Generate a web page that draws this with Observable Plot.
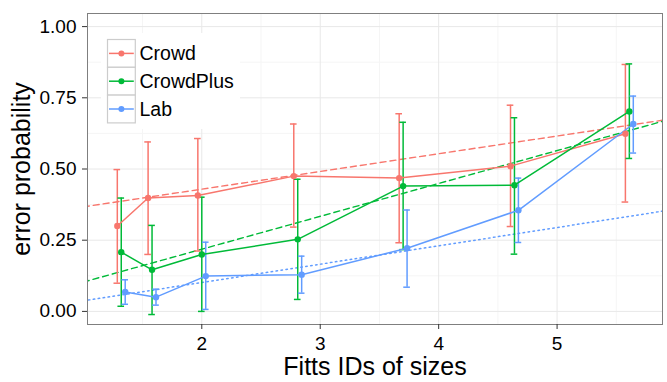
<!DOCTYPE html>
<html><head><meta charset="utf-8">
<script src="https://cdn.jsdelivr.net/npm/d3@7"></script>
<script src="https://cdn.jsdelivr.net/npm/@observablehq/plot@0.6"></script>
<style>
html,body{margin:0;padding:0;background:#fff;}
#chart{position:relative;width:667px;height:382px;font-family:"Liberation Sans",Arial,sans-serif;}
#chart svg{display:block;}
#legend{position:absolute;left:0;top:0;pointer-events:none;}
</style></head><body><div id="chart"></div>
<script>
// ---- data ----
const categories = ["Crowd", "CrowdPlus", "Lab"];
const colors = ["#F8766D", "#00BA38", "#619CFF"];
const fittsIDs = [1.32, 1.58, 2.0, 2.81, 3.70, 4.64, 5.61];

const crowd      = [0.300, 0.398, 0.407, 0.475, 0.468, 0.510, 0.624];
const crowdLo    = [0.099, 0.200, 0.212, 0.296, 0.241, 0.298, 0.384];
const crowdHi    = [0.498, 0.595, 0.607, 0.658, 0.694, 0.724, 0.867];

const crowdPlus   = [0.208, 0.146, 0.200, 0.253, 0.440, 0.443, 0.702];
const crowdPlusLo = [0.018, -0.011, 0.000, 0.042, 0.217, 0.201, 0.537];
const crowdPlusHi = [0.398, 0.302, 0.401, 0.464, 0.664, 0.680, 0.869];

const lab   = [0.068, 0.050, 0.124, 0.129, 0.222, 0.355, 0.658];
const labLo = [0.025, 0.022, 0.007, 0.064, 0.085, 0.242, 0.556];
const labHi = [0.111, 0.078, 0.243, 0.194, 0.356, 0.468, 0.756];

// linear trend lines (values at the ends of trendX)
const trendX = [1, 6];
const crowdTrend     = [0.367, 0.678];
const crowdPlusTrend = [0.103, 0.680];
const labTrend       = [0.037, 0.359];

const xTicks = [2, 3, 4, 5];
const xTickLabels = ["2", "3", "4", "5"];
const xMinor = [1.5, 2.5, 3.5, 4.5, 5.5];
const yTicks = [0, 0.25, 0.5, 0.75, 1];
const yTickLabels = ["0.00", "0.25", "0.50", "0.75", "1.00"];
const yMinor = [0.125, 0.375, 0.625, 0.875];

const xTitle = "Fitts IDs of sizes";
const yTitle = "error probability";

// ---- build tables ----
const dodgeWidth = 0.1;
const capHalf = 0.028;
const means = [crowd, crowdPlus, lab];
const los = [crowdLo, crowdPlusLo, labLo];
const his = [crowdHi, crowdPlusHi, labHi];
const trends = [crowdTrend, crowdPlusTrend, labTrend];

const rows = [];
categories.forEach((c, i) => fittsIDs.forEach((id, j) => rows.push({
  series: c, x: id + (i - 1) * dodgeWidth / 3, y: means[i][j], lo: los[i][j], hi: his[i][j]
})));
const trendRows = [];
categories.forEach((c, i) => trendX.forEach((tx, j) => trendRows.push({series: c, x: tx, y: trends[i][j]})));

const font = "Liberation Sans, Arial, sans-serif";

const plot = Plot.plot({
  width: 667, height: 382,
  marginLeft: 87, marginRight: 5, marginTop: 13, marginBottom: 58,
  style: {fontFamily: font, background: "#fff", color: "#000", overflow: "visible"},
  x: {domain: [1.035, 5.89], label: null},
  y: {domain: [-0.046, 1.046], label: null},
  color: {domain: categories, range: colors},
  marks: [
    Plot.gridX(xMinor, {stroke: "#F5F5F5", strokeOpacity: 1, strokeWidth: 1}),
    Plot.gridY(yMinor, {stroke: "#F5F5F5", strokeOpacity: 1, strokeWidth: 1}),
    Plot.gridX(xTicks, {stroke: "#E8E8E8", strokeOpacity: 1, strokeWidth: 1}),
    Plot.gridY(yTicks, {stroke: "#E8E8E8", strokeOpacity: 1, strokeWidth: 1}),
    Plot.line(trendRows.filter(d => d.series !== "Lab"), {x: "x", y: "y", z: "series", stroke: "series", strokeWidth: 1.4, strokeDasharray: "6,4", clip: true}),
    Plot.line(trendRows.filter(d => d.series === "Lab"), {x: "x", y: "y", z: "series", stroke: "series", strokeWidth: 1.5, strokeDasharray: "1.5,3.5", clip: true}),
    Plot.ruleX(rows, {x: "x", y1: "lo", y2: "hi", stroke: "series", strokeWidth: 1.5}),
    Plot.ruleY(rows, {y: "lo", x1: d => d.x - capHalf, x2: d => d.x + capHalf, stroke: "series", strokeWidth: 1.5}),
    Plot.ruleY(rows, {y: "hi", x1: d => d.x - capHalf, x2: d => d.x + capHalf, stroke: "series", strokeWidth: 1.5}),
    Plot.line(rows, {x: "x", y: "y", z: "series", stroke: "series", strokeWidth: 1.5}),
    Plot.dot(rows, {x: "x", y: "y", fill: "series", r: 3.2}),
    Plot.frame({stroke: "#7F7F7F", strokeWidth: 1}),
    Plot.axisX(xTicks, {tickSize: 5, tickPadding: 7, fontSize: 19, label: null, stroke: "#333", fill: "#000",
      tickFormat: d => xTickLabels[xTicks.indexOf(d)]}),
    Plot.axisY(yTicks, {tickSize: 5, tickPadding: 6, fontSize: 19, label: null, stroke: "#333", fill: "#000",
      tickFormat: d => yTickLabels[yTicks.indexOf(d)]}),
    Plot.text([xTitle], {text: d => d, frameAnchor: "bottom", textAnchor: "middle", lineAnchor: "top", dy: 33, fontSize: 25, fill: "#000"}),
    Plot.text([yTitle], {text: d => d, frameAnchor: "left", textAnchor: "middle", lineAnchor: "middle", rotate: -90, dx: -66, fontSize: 25, fill: "#000"})
  ]
});

const chart = document.getElementById("chart");
chart.appendChild(plot);

// ---- legend overlay (inside panel, top-left) ----
const lg = d3.select(chart).append("svg").attr("id", "legend")
  .attr("width", 667).attr("height", 382)
  .style("font-family", font);
const keyX = 107.5, keyY = 39.5, keySize = 27.8;
lg.append("rect").attr("x", 101).attr("y", 33).attr("width", 139).attr("height", 96).attr("fill", "#fff");
categories.forEach((c, i) => {
  const y0 = keyY + i * keySize;
  const g = lg.append("g");
  g.append("rect").attr("x", keyX).attr("y", y0).attr("width", keySize).attr("height", keySize)
    .attr("fill", "#fff").attr("stroke", "#CCCCCC").attr("stroke-width", 1.2);
  g.append("line").attr("x1", keyX + 1.5).attr("x2", keyX + keySize - 1.5)
    .attr("y1", y0 + keySize / 2).attr("y2", y0 + keySize / 2)
    .attr("stroke", colors[i]).attr("stroke-width", 1.5);
  g.append("circle").attr("cx", keyX + keySize / 2).attr("cy", y0 + keySize / 2).attr("r", 3).attr("fill", colors[i]);
  g.append("text").attr("x", 139.5).attr("y", y0 + keySize / 2).attr("dy", "0.36em")
    .attr("font-size", 19.5).attr("fill", "#000").text(c);
});
</script></body></html>
